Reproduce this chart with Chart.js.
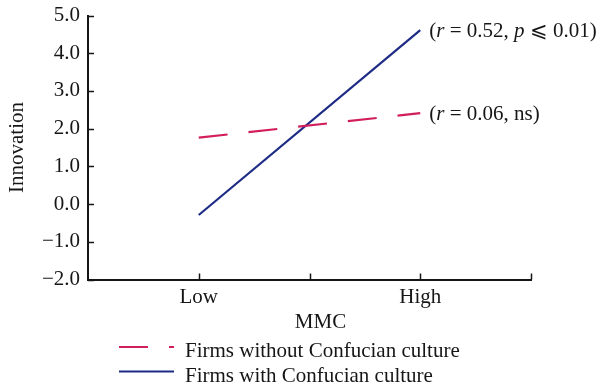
<!DOCTYPE html>
<html><head><meta charset="utf-8">
<script src="https://cdn.jsdelivr.net/npm/chart.js@4.4.1/dist/chart.umd.min.js"></script>
<style>html,body{margin:0;padding:0;background:#fff;}#wrap{width:597px;height:382px;}</style>
</head><body><div id="wrap"><canvas id="c" width="597" height="382"></canvas></div>
<script>
// ---- data ----
const mmcLevels = [1, 3];                       // x positions of Low / High
const xTickLabels = ['', 'Low', '', 'High', ''];
const withoutConfucian = [1.76, 2.41];
const withConfucian = [-0.29, 4.61];
const seriesNames = ['Firms without Confucian culture', 'Firms with Confucian culture'];
const annotations = [
  [['(', 0], ['r', 1], [' = 0.06, ns)', 0]],
  [['(', 0], ['r', 1], [' = 0.52, ', 0], ['p', 1], [' \u2A7D 0.01)', 0]]
];
const yTitle = 'Innovation';
const xTitle = 'MMC';

// ---- style ----
const serif = "'Liberation Serif','Times New Roman','DejaVu Serif',serif";
const ink = '#161616';
const red = '#d21e5a';
const blue = '#1e2b85';
const fontPx = 21;

const pts = arr => arr.map((v, i) => ({x: mmcLevels[i], y: v}));

const decor = {
  id: 'decor',
  afterDraw(chart) {
    const {ctx, scales: {x, y}, chartArea: a} = chart;
    ctx.save();
    // inward ticks
    ctx.strokeStyle = ink; ctx.lineWidth = 1.5;
    ctx.beginPath();
    y.ticks.forEach(t => { const py = Math.round(y.getPixelForValue(t.value)) + 0.5; ctx.moveTo(a.left, py); ctx.lineTo(a.left + 6, py); });
    x.ticks.forEach(t => { if (t.value === 0) return; const px = Math.round(x.getPixelForValue(t.value)) + 0.5; ctx.moveTo(px, a.bottom); ctx.lineTo(px, a.bottom - 6); });
    ctx.stroke();

    // end-of-line annotations
    ctx.fillStyle = ink;
    ctx.textBaseline = 'middle';
    ctx.textAlign = 'left';
    chart.data.datasets.forEach((ds, i) => {
      const meta = chart.getDatasetMeta(i);
      const pt = meta.data[meta.data.length - 1];
      let px = pt.x + 9;
      const py = pt.y + 1;
      annotations[i].forEach(([txt, it]) => {
        ctx.font = (it ? 'italic ' : '') + fontPx + 'px ' + serif;
        ctx.fillText(txt, px, py);
        px += ctx.measureText(txt).width;
      });
    });

    // x title
    ctx.font = fontPx + 'px ' + serif;
    ctx.textBaseline = 'alphabetic';
    ctx.textAlign = 'center';
    ctx.fillText(xTitle, (a.left + a.right) / 2 + 11, a.bottom + 48);

    // legend
    const lx0 = a.left + 31, lx1 = a.left + 86, tx = a.left + 97;
    const rows = [a.bottom + 67.5, a.bottom + 92];
    chart.data.datasets.forEach((ds, i) => {
      ctx.strokeStyle = ds.borderColor;
      ctx.lineWidth = ds.borderWidth;
      ctx.setLineDash(ds.borderDash || []);
      ctx.beginPath();
      ctx.moveTo(lx0, rows[i]); ctx.lineTo(lx1, rows[i]);
      ctx.stroke();
      ctx.setLineDash([]);
      ctx.textAlign = 'left';
      ctx.fillText(ds.label, tx, rows[i] + 10);
    });
    ctx.restore();
  }
};

new Chart(document.getElementById('c'), {
  type: 'line',
  data: {
    datasets: [
      {label: seriesNames[0], data: pts(withoutConfucian), borderColor: red, borderWidth: 2.2, borderDash: [29, 21], pointRadius: 0, fill: false, tension: 0},
      {label: seriesNames[1], data: pts(withConfucian), borderColor: blue, borderWidth: 2.2, pointRadius: 0, fill: false, tension: 0}
    ]
  },
  options: {
    responsive: false,
    animation: false,
    events: [],
    layout: {padding: {top: 15.5, right: 66, left: 0, bottom: 0}},
    plugins: {legend: {display: false}, tooltip: {enabled: false}},
    scales: {
      x: {
        type: 'linear', min: 0, max: 4,
        afterFit: s => { s.height = 102.5; },
        grid: {display: false, drawTicks: false},
        border: {display: true, color: ink, width: 2},
        ticks: {stepSize: 1, autoSkip: false, maxRotation: 0, padding: 5, color: ink,
          font: {family: serif, size: fontPx},
          callback: v => xTickLabels[v] ?? ''}
      },
      y: {
        min: -2, max: 5,
        afterFit: s => { s.width = 88; },
        grid: {display: false, drawTicks: false},
        border: {display: true, color: ink, width: 2},
        title: {display: true, text: yTitle, color: ink, font: {family: serif, size: fontPx}, padding: {top: 5, bottom: 0}},
        ticks: {stepSize: 1, padding: 8, color: ink, font: {family: serif, size: fontPx, lineHeight: 0.5},
          callback: v => (v < 0 ? '\u2212' + Math.abs(v).toFixed(1) : v.toFixed(1))}
      }
    }
  },
  plugins: [decor]
});
</script></body></html>
